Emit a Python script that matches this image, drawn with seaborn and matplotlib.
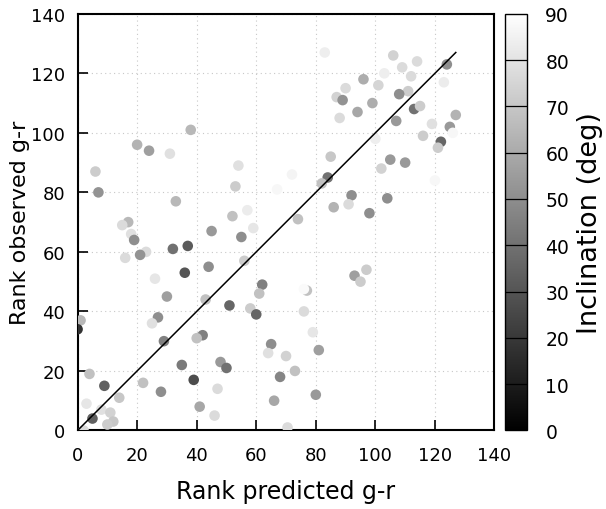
import numpy as np
import pandas as pd
import matplotlib
matplotlib.use("Agg")
import matplotlib.pyplot as plt
import seaborn as sns

# --- data ---
rank_pred = [38, 20, 24, 31, 6, 7, 54, 53, 33, 57, 52, 59, 67, 72, 17, 15, 45,
             18, 19, 55, 23, 21, 16, 32, 37, 36, 44, 56, 26, 30, 43, 62, 61, 51,
             58, 60, 1, 0, 27, 25, 29, 42, 40, 65, 64, 70, 35, 48, 50, 68, 4, 9,
             22, 39, 28, 47, 14, 3, 66, 41, 46, 5, 8, 11, 12, 10, 2, 70.5,
             83, 106, 114, 109, 124, 103, 112, 96, 123, 101, 90, 111, 108, 87,
             89, 99, 113, 115, 94, 88, 127, 107, 119, 125, 126, 116, 100, 122,
             121, 85, 105, 110, 102, 120, 84, 82, 92, 91, 86, 104, 98, 74,
             97, 93, 95, 77, 76, 76, 79, 81, 73, 80]
rank_obs = [101, 96, 94, 93, 87, 80, 89, 82, 77, 74, 72, 68, 81, 86, 70, 69, 67,
            66, 64, 65, 60, 59, 58, 61, 62, 53, 55, 57, 51, 45, 44, 49, 46, 42,
            41, 39, 37, 34, 38, 36, 30, 32, 31, 29, 26, 25, 22, 23, 21, 18, 19, 15,
            16, 17, 13, 14, 11, 9, 10, 8, 5, 4, 7, 6, 3, 2, 0, 1,
            127, 126, 124, 122, 123, 120, 119, 118, 117, 116, 115, 114, 113, 112,
            111, 110, 108, 109, 107, 105, 106, 104, 103, 102, 100, 99, 98, 97,
            95, 92, 91, 90, 88, 84, 85, 83, 79, 76, 75, 78, 73, 71,
            54, 52, 50, 47, 47.5, 40, 33, 27, 20, 12]
inclination = [65, 63, 56, 79, 72, 52, 79, 72, 65, 83, 68, 81, 87, 86, 65, 77, 54,
               79, 50, 50, 77, 52, 77, 40, 32, 30, 50, 72, 81, 56, 68, 45, 68, 36,
               72, 36, 65, 18, 50, 79, 45, 45, 68, 50, 79, 74, 43, 54, 40, 47, 68, 34,
               68, 27, 50, 77, 70, 81, 59, 59, 77, 34, 79, 74, 70, 72, 77, 77,
               84, 74, 77, 77, 50, 84, 77, 61, 83, 75, 77, 72, 50, 74,
               52, 61, 40, 72, 59, 77, 63, 54, 79, 54, 87, 72, 84, 36,
               72, 70, 54, 54, 74, 87, 40, 68, 50, 77, 63, 50, 50, 68,
               72, 56, 72, 68, 88, 77, 81, 56, 68, 54]

df = pd.DataFrame({"pred": rank_pred, "obs": rank_obs, "incl": inclination})

plt.rcParams['font.family'] = ['DejaVu Sans']

fig = plt.figure(figsize=(6.06, 5.10), dpi=100)
ax = fig.add_axes([0.128, 0.154, 0.688, 0.817])
cax = fig.add_axes([0.833, 0.154, 0.037, 0.817])

sns.scatterplot(data=df, x="pred", y="obs", hue="incl", palette="gray",
                hue_norm=(0, 90), s=58, edgecolor="none", linewidth=0,
                legend=False, ax=ax, zorder=3)

ax.plot([0, 127], [0, 127], color="black", lw=1.1, zorder=4)

ax.set_xlim(0, 140)
ax.set_ylim(0, 140)
ax.set_xticks(range(0, 141, 20))
ax.set_yticks(range(0, 141, 20))
ax.grid(True, linestyle=(0, (1, 3)), color="#c8c8c8", lw=0.8, zorder=0)
ax.tick_params(direction="in", length=7, width=1.2, labelsize=13,
               top=False, right=False)
ax.tick_params(axis="x", pad=11)
ax.tick_params(axis="y", pad=9)
for sp in ax.spines.values():
    sp.set_linewidth(1.5)
ax.set_xlabel("Rank predicted g-r", fontsize=17, labelpad=11)
ax.set_ylabel("Rank observed g-r", fontsize=16, labelpad=1)

# colour box
sm = plt.cm.ScalarMappable(cmap="gray", norm=plt.Normalize(0, 90))
cb = fig.colorbar(sm, cax=cax)
cb.set_ticks(range(0, 91, 10))
cb.ax.tick_params(length=0, labelsize=13.5, pad=13)
for v in range(10, 90, 10):
    cax.axhline(v, color="black", lw=0.9)
cb.outline.set_linewidth(1.0)
cb.set_label("Inclination (deg)", fontsize=19.5, labelpad=6)

fig.savefig("out.png", dpi=100)
